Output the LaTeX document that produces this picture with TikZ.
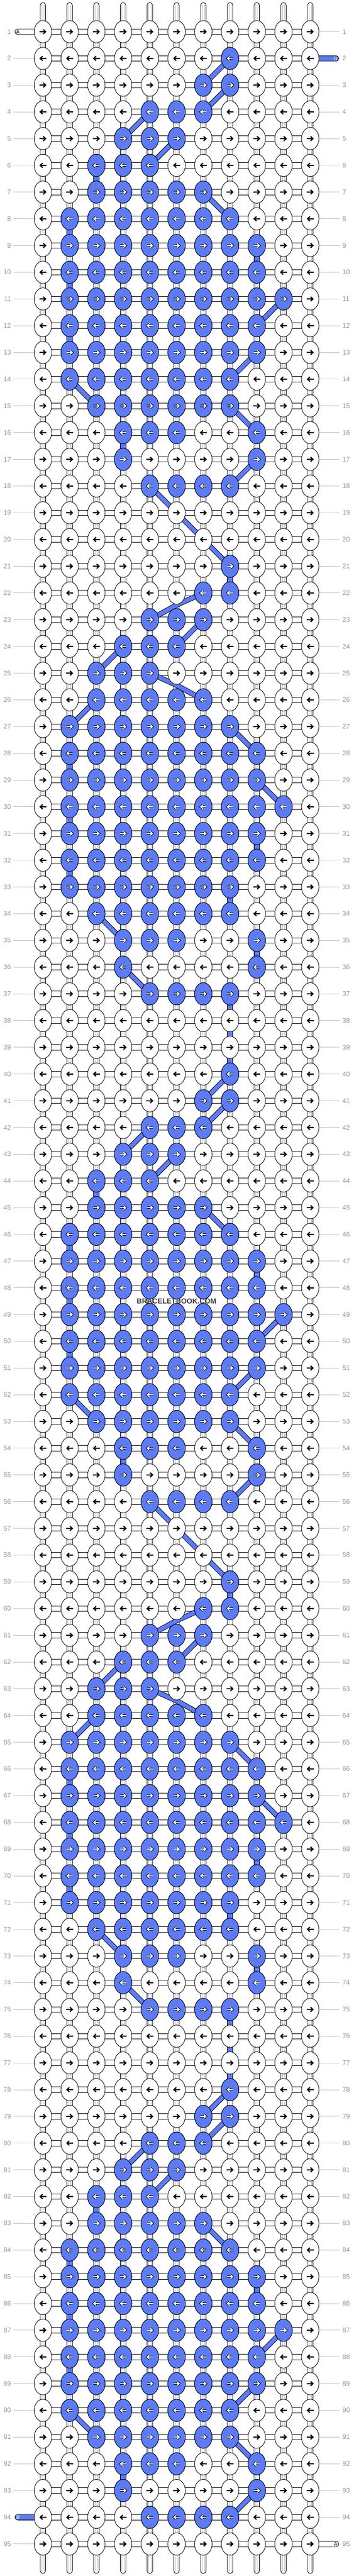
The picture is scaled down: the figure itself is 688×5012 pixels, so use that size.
\documentclass[tikz,border=0pt]{standalone}
\usepackage{fontspec}
\setmainfont{Liberation Sans}
\definecolor{kb}{RGB}{92,123,245}
\definecolor{lblc}{RGB}{150,150,150}
\definecolor{linec}{RGB}{190,190,190}
\definecolor{innerc}{RGB}{190,190,190}
\tikzset{
 knotw/.style={draw=black, line width=0.9pt, fill=white},
 knotb/.style={draw=black, line width=0.9pt, fill=kb},
 conn/.style={draw=black, line width=0.9pt, fill=white},
 connb/.style={draw=black, line width=0.9pt, fill=kb},
 innerl/.style={draw=innerc, line width=0.6pt},
 barp/.style={draw=black, line width=1pt, double=kb, double distance=8pt, line join=round},
 rowlbl/.style={text=lblc, font=\fontsize{13}{13}\selectfont, inner sep=0pt},
 sidel/.style={draw=linec, line width=1pt},
 stubw/.style={draw=black, line width=0.9pt, fill=white, rounded corners=5.3pt},
 stubb/.style={draw=black, line width=0.9pt, fill=kb, rounded corners=5.3pt},
 stubtxt/.style={font=\fontsize{10}{10}\selectfont, inner sep=0pt},
 arrblk/.style={draw=black, line width=2.2pt, line join=miter},
 arrout/.style={draw=black, line width=4.2pt, line join=miter, line cap=square},
 arrin/.style={draw=white, line width=2pt, line join=miter},
}
\begin{document}
\begin{tikzpicture}[x=1pt,y=-1pt]
\useasboundingbox (0,0) rectangle (688,5012);
\fill[white] (0,0) rectangle (688,5012);
% side lines
\draw[sidel] \foreach \r [evaluate=\r as \yy using {61.7+52*(\r-1)}] in {2,...,93} {(26,\yy) -- (70,\yy)} (26,4949.7) -- (70,4949.7);
\draw[sidel] \foreach \r [evaluate=\r as \yy using {61.7+52*(\r-1)}] in {3,...,94} {(597,\yy) -- (661,\yy)} (597,61.7) -- (661,61.7);
% row labels
\foreach \r [evaluate=\r as \yy using {61.7+52*(\r-1)}] in {1,...,95}{
  \node[rowlbl, anchor=east] (ll-\r) at (21.5,\yy) {\r};
  \node[rowlbl, anchor=west] (rl-\r) at (666,\yy) {\r};
}
% vertical strands
\foreach \c [evaluate=\c as \xx using {83.5+52*(\c-1)}] in {1,...,11}{
  \draw[stubw] ({\xx-5.3},5) rectangle ({\xx+5.3},5007);
  \draw[innerl] ({\xx-2.3},9) -- ({\xx-2.3},5003) ({\xx+2.3},9) -- ({\xx+2.3},5003);
}
% horizontal connectors
\foreach \r [evaluate=\r as \yy using {61.7+52*(\r-1)}] in {1,...,95}{
  \draw[conn] (83.5,{\yy-5.3}) rectangle (603.5,{\yy+5.3});
}
% working strand stubs
\draw[stubw] (29,56.4) rectangle (90,67);
\node[stubtxt] (sa1) at (34.8,62.1) {A};
\draw[stubb] (597,108.4) rectangle (659,119);
\node[stubtxt, text=white] (sb1) at (653,114.1) {B};
\draw[stubb] (29,4892.4) rectangle (90,4903);
\node[stubtxt, text=white] (sb2) at (35,4898.1) {B};
\draw[stubw] (597,4944.4) rectangle (659,4955);
\node[stubtxt] (sa2) at (653,4950.1) {A};
% blue vertical connectors
\foreach \r/\c in {6/3,8/2,9/9,10/2,12/2,16/4,44/3,46/2,47/9,48/2,50/2,54/4,82/3,84/2,85/9,86/2,88/2,92/4,21/8,28/2,30/2,31/9,32/2,33/8,35/9,37/8,38/8,39/8,59/8,66/2,68/2,69/9,70/2,71/8,73/9,75/8,76/8,77/8}{
  \draw[connb] ({83.5+52*(\c-1)-5.3},{61.7+52*(\r-1)}) rectangle ({83.5+52*(\c-1)+5.3},{61.7+52*\r});
}
% blue strand bars
\foreach \a/\b/\c/\d in {2/8/3/7,3/8/4/7,4/5/5/4,5/6/6/5,7/7/8/8,11/10/12/9,13/9/14/8,14/2/15/3,15/8/16/9,17/9/18/8,
  40/8/41/7,41/8/42/7,42/5/43/4,43/6/44/5,45/7/46/8,49/10/50/9,51/9/52/8,52/2/53/3,53/8/54/9,55/9/56/8,
  78/8/79/7,79/8/80/7,80/5/81/4,81/6/82/5,83/7/84/8,87/10/88/9,89/9/90/8,90/2/91/3,91/8/92/9,93/9/94/8,
  23/7/24/6,24/4/25/3,26/3/27/2,27/8/28/9,29/9/30/10,34/3/35/4,36/4/37/5,
  61/7/62/6,62/4/63/3,64/3/65/2,65/8/66/9,67/9/68/10,72/3/73/4,74/4/75/5}{
  \draw[barp] ({83.5+52*(\b-1)},{61.7+52*(\a-1)}) -- ({83.5+52*(\d-1)},{61.7+52*(\c-1)});
}
\draw[barp] (291.5,945.7) -- (343.5,997.7) -- (395.5,1049.7) -- (447.5,1101.7);
\draw[barp] (291.5,2921.7) -- (343.5,2973.7) -- (395.5,3025.7) -- (447.5,3077.7);
\draw[barp] (395.5,1153.7) -- (343.5,1177.1) -- (291.5,1205.7);
\draw[barp] (291.5,1309.7) -- (343.5,1333.1) -- (395.5,1361.7);
\draw[barp] (395.5,3129.7) -- (343.5,3153.1) -- (291.5,3181.7);
\draw[barp] (291.5,3285.7) -- (343.5,3309.1) -- (395.5,3337.7);
% knots (white) with black arrows
\foreach \r [evaluate=\r as \yy using {61.7+52*(\r-1)}] in {1,...,95}{
  \draw[knotw] \foreach \c [evaluate=\c as \xx using {83.5+52*(\c-1)}] in {1,...,11}{(\xx,\yy) ellipse [x radius=17, y radius=21.7]};
  \ifodd\r
    \draw[arrblk] \foreach \c [evaluate=\c as \xx using {83.5+52*(\c-1)}] in {1,...,11}{({\xx-6.8},\yy) -- ({\xx+5},\yy) ({\xx+0.6},{\yy-4.4}) -- ({\xx+5.3},\yy) -- ({\xx+0.6},{\yy+4.4})};
  \else
    \draw[arrblk] \foreach \c [evaluate=\c as \xx using {83.5+52*(\c-1)}] in {1,...,11}{({\xx+6.8},\yy) -- ({\xx-5},\yy) ({\xx-0.6},{\yy-4.4}) -- ({\xx-5.3},\yy) -- ({\xx-0.6},{\yy+4.4})};
  \fi
}
% knots (blue) with outlined white arrows
\foreach \k/\cols in {0/{8},1/{7,8},2/{5,6,7},3/{4,5,6},4/{3,4,5},5/{3,...,7},6/{2,...,8},7/{2,...,9},8/{2,...,9},9/{2,...,10},10/{2,...,9},11/{2,...,9},12/{2,...,8},13/{3,...,8},14/{4,5,6,9},15/{4,9},16/{5,6,7,8}}{
  \foreach \s in {2,21,40,59,78}{
    \pgfmathtruncatemacro\rr{\s+\k}
    \pgfmathsetmacro\yy{61.7+52*(\rr-1)}
    \ifnum\rr<96
      \draw[knotb] \foreach \c [evaluate=\c as \xx using {83.5+52*(\c-1)}] in \cols {(\xx,\yy) ellipse [x radius=17, y radius=21.7]};
      \ifodd\rr
        \foreach \sty in {arrout,arrin}{
          \draw[\sty] \foreach \c [evaluate=\c as \xx using {83.5+52*(\c-1)}] in \cols {({\xx-6},\yy) -- ({\xx+4.8},\yy) ({\xx+0.8},{\yy-3.9}) -- ({\xx+5.1},\yy) -- ({\xx+0.8},{\yy+3.9})};
        }
      \else
        \foreach \sty in {arrout,arrin}{
          \draw[\sty] \foreach \c [evaluate=\c as \xx using {83.5+52*(\c-1)}] in \cols {({\xx+6},\yy) -- ({\xx-4.8},\yy) ({\xx-0.8},{\yy-3.9}) -- ({\xx-5.1},\yy) -- ({\xx-0.8},{\yy+3.9})};
        }
      \fi
    \fi
  }
}
% watermark
\node[font=\bfseries\fontsize{14}{14}\selectfont, text=black!78, inner sep=0pt] (wm) at (343.5,2531.7) {BRACELETBOOK.COM};
\end{tikzpicture}
\end{document}
